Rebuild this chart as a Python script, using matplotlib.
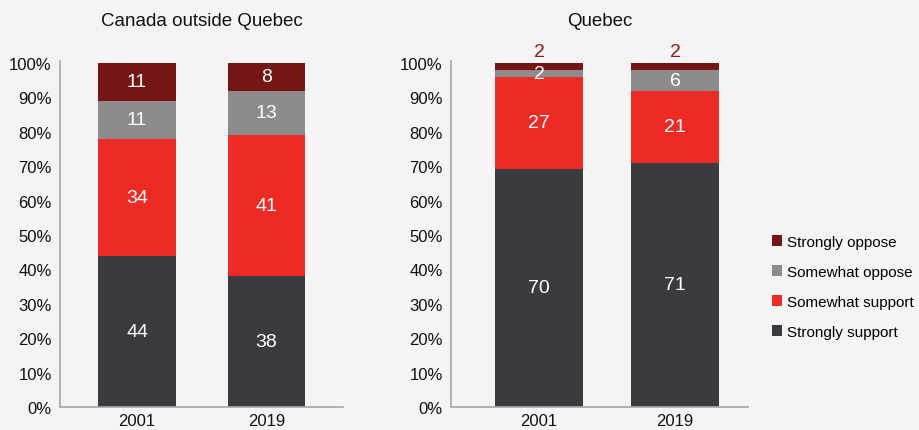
import matplotlib
matplotlib.use("Agg")
import matplotlib.pyplot as plt
import numpy as np

plt.rcParams['font.family'] = ['Liberation Sans', 'DejaVu Sans']

years = ["2001", "2019"]
categories = ["Strongly support", "Somewhat support", "Somewhat oppose", "Strongly oppose"]
canada_vals = {
    "Strongly support": [44, 38],
    "Somewhat support": [34, 41],
    "Somewhat oppose": [11, 13],
    "Strongly oppose": [11, 8],
}
quebec_vals = {
    "Strongly support": [70, 71],
    "Somewhat support": [27, 21],
    "Somewhat oppose": [2, 6],
    "Strongly oppose": [2, 2],
}
colors = {
    "Strongly support": "#3b3a3f",
    "Somewhat support": "#ee2a25",
    "Somewhat oppose": "#8c8c8c",
    "Strongly oppose": "#761614",
}
bg = "#f4f4f4"

fig = plt.figure(figsize=(9.2, 4.31), dpi=100, facecolor=bg)
ax1 = fig.add_axes([60/920, 1-408/431, 283/920, 344/431])
ax2 = fig.add_axes([451/920, 1-408/431, 297/920, 344/431])


def draw(ax, vals, title, width, xlim, outside_top):
    ax.set_facecolor(bg)
    x = np.arange(len(years))
    totals = np.sum([vals[c] for c in categories], axis=0).astype(float)
    bottom = np.zeros(len(years))
    for c in categories:
        v = np.array(vals[c], dtype=float)
        h = v / totals * 100
        ax.bar(x, h, width, bottom=bottom, color=colors[c], edgecolor="none", label=c)
        for i in range(len(years)):
            if outside_top and c == "Strongly oppose":
                ax.annotate(str(vals[c][i]), (x[i], 100), xytext=(0, 8),
                            textcoords="offset points", ha="center", va="center",
                            color="#8b1c1c", fontsize=14)
            else:
                ax.text(x[i], bottom[i] + h[i] / 2, str(vals[c][i]), ha="center",
                        va="center", color="white", fontsize=14)
        bottom += h
    ax.set_ylim(0, 100)
    ax.set_xlim(*xlim)
    ax.set_xticks(x)
    ax.set_xticklabels(years)
    ax.set_yticks(np.arange(0, 101, 10))
    ax.set_yticklabels([f"{t}%" for t in range(0, 101, 10)])
    ax.tick_params(axis="both", length=0, labelsize=12, colors="#111111")
    ax.tick_params(axis="y", pad=6)
    ax.tick_params(axis="x", pad=4.5)
    for s in ["top", "right"]:
        ax.spines[s].set_visible(False)
    for s in ["left", "bottom"]:
        ax.spines[s].set_color("#a6a6a6")
        ax.spines[s].set_linewidth(1.2)
    ax.spines["left"].set_bounds(0, 100.6)
    ax.set_title(title, fontsize=13.5, pad=27, color="#111111")


draw(ax1, canada_vals, "Canada outside Quebec", 0.6, (-0.595, 1.59), False)
draw(ax2, quebec_vals, "Quebec", 0.65, (-0.647, 1.537), True)

handles, labels = ax2.get_legend_handles_labels()
leg = fig.legend(handles[::-1], labels[::-1], loc="center left",
                 bbox_to_anchor=(758/920, 1-288/431), frameon=False,
                 fontsize=11, handlelength=0.7, handleheight=0.7,
                 handletextpad=0.3, labelspacing=1.05)

fig.savefig("out.png", dpi=100, facecolor=bg)
